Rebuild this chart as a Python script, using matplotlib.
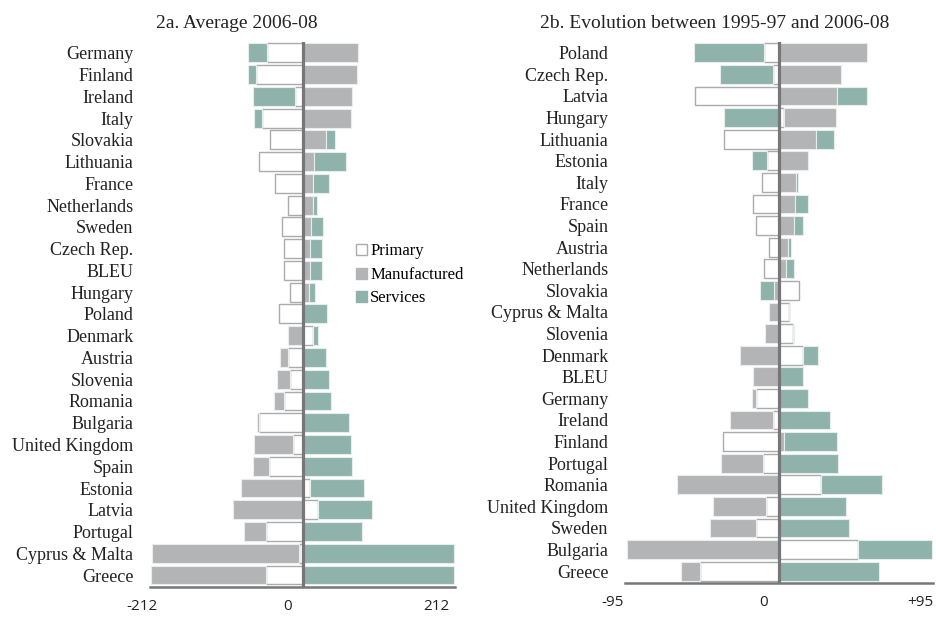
import matplotlib
matplotlib.use("Agg")
import matplotlib.pyplot as plt
import matplotlib.transforms as mtransforms
from matplotlib.patches import Patch
import numpy as np

# panel 2a: average 2006-08
countries_a = ["Germany", "Finland", "Ireland", "Italy", "Slovakia", "Lithuania", "France",
               "Netherlands", "Sweden", "Czech Rep.", "BLEU", "Hungary", "Poland", "Denmark",
               "Austria", "Slovenia", "Romania", "Bulgaria", "United Kingdom", "Spain",
               "Estonia", "Latvia", "Portugal", "Cyprus & Malta", "Greece"]
primary_a = [-49, -64, -10, -56, -45, -61, -38, -20, -28, -26, -26, -17, -33, 14,
             -20, -17, -26, -60, -13, -46, 11, 22, -51, -5, -51]
manuf_a = [77, 76, 69, 67, 33, 16, 14, 14, 12, 10, 10, 9, 0, -20,
           -11, -19, -14, -3, -55, -23, -85, -97, -31, -204, -160]
services_a = [-27, -12, -59, -11, 12, 45, 23, 6, 17, 17, 17, 8, 34, 7,
              32, 37, 40, 64, 68, 69, 74, 75, 83, 210, 211]

# panel 2b: evolution between 1995-97 and 2006-08
countries_b = ["Poland", "Czech Rep.", "Latvia", "Hungary", "Lithuania", "Estonia", "Italy",
               "France", "Spain", "Austria", "Netherlands", "Slovakia", "Cyprus & Malta",
               "Slovenia", "Denmark", "BLEU", "Germany", "Ireland", "Finland", "Portugal",
               "Romania", "United Kingdom", "Sweden", "Bulgaria", "Greece"]
primary_b = [-9.4, -4, -52, 3, -34, -7.6, -10.7, -16, -14, -6.4, -9, 12.5, 6,
             8.5, 15, 0, -14, -3.7, -34.8, -10, 26, -8, -14, 49, -48.8]
manuf_b = [54, 38, 36, 32, 23, 18, 10.5, 10, 9.5, 5.3, 4.5, -3, -6,
           -8.6, -24, -16, -2.7, -26.8, 3.3, -26, -63, -32.7, -28.4, -94, -11.7]
services_b = [-43, -32.5, 18, -34, 11, -9, 1, 7.6, 5, 2, 5, -9, 0,
              1, 9, 14.6, 17.7, 31.5, 32.3, 36.4, 37.5, 41.5, 43.4, 45.3, 61.5]

TEAL = "#8fb3ab"
GREY = "#b3b4b6"
DARK = "#77777a"
SERIF = "Liberation Serif"

fig = plt.figure(figsize=(9.36, 6.17), dpi=100)
W, H = 936, 617


def px_axes(x0, x1, y0, y1):
    return fig.add_axes([x0 / W, 1 - y1 / H, (x1 - x0) / W, (y1 - y0) / H])


def stacked(ax, names, series, lim, tick_text, label_shift):
    y = np.arange(len(names))
    pos = np.zeros(len(names))
    neg = np.zeros(len(names))
    styles = [dict(color="white", edgecolor="#ababab", linewidth=1.0),
              dict(color=GREY, edgecolor="#ececec", linewidth=0.8),
              dict(color=TEAL, edgecolor="#e6eeec", linewidth=0.8)]
    for vals, st in zip(series, styles):
        vals = np.asarray(vals, dtype=float)
        base = np.where(vals >= 0, pos, neg)
        ax.barh(y, vals, left=base, height=0.87, **st)
        pos += np.where(vals >= 0, vals, 0)
        neg += np.where(vals < 0, vals, 0)

    ax.axvline(0, color=DARK, lw=2.3, zorder=5)
    ax.set_xlim(-lim, lim)
    ax.set_ylim(len(names) - 0.45, -0.5)
    ax.set_yticks(y)
    ax.set_yticklabels(names, fontsize=13, family=SERIF, color="#222222")
    ax.tick_params(axis="y", length=0, pad=12)
    ax.set_xticks([-lim, 0, lim])
    ax.set_xticklabels(tick_text, fontsize=11, family="Open Sans", color="#222222")
    ax.tick_params(axis="x", length=0, pad=9)
    for lab, dx in zip(ax.get_xticklabels(), label_shift):
        lab.set_transform(lab.get_transform() +
                          mtransforms.ScaledTranslation(dx / 100, 0, fig.dpi_scale_trans))
    for s in ["top", "left", "right"]:
        ax.spines[s].set_visible(False)
    ax.spines["bottom"].set_color(DARK)
    ax.spines["bottom"].set_linewidth(1.8)
    ax.patch.set_alpha(0)


ax1 = px_axes(150, 455, 42, 587)
stacked(ax1, countries_a, [primary_a, manuf_a, services_a], 212,
        ["-212", "0", "212"], [-8, -15, -19])

ax2 = px_axes(625, 933, 42, 583)
stacked(ax2, countries_b, [primary_b, manuf_b, services_b], 95,
        ["-95", "0", "+95"], [-12, -15, -13])

fig.text(237 / W, 1 - 23 / H, "2a. Average 2006-08", ha="center", va="center",
         fontsize=14, family=SERIF, color="#222222")
fig.text(715 / W, 1 - 23 / H, "2b. Evolution between 1995-97 and 2006-08", ha="center",
         va="center", fontsize=14, family=SERIF, color="#222222")

handles = [Patch(facecolor="white", edgecolor="#ababab", label="Primary"),
           Patch(facecolor=GREY, edgecolor=GREY, label="Manufactured"),
           Patch(facecolor=TEAL, edgecolor=TEAL, label="Services")]
fig.legend(handles=handles, loc="center left", bbox_to_anchor=(356 / W, 1 - 275 / H),
           frameon=False, borderpad=0, borderaxespad=0, handlelength=0.65,
           handleheight=0.65, handletextpad=0.2, labelspacing=0.45,
           prop={"family": SERIF, "size": 12})

fig.savefig("out.png", dpi=100)
